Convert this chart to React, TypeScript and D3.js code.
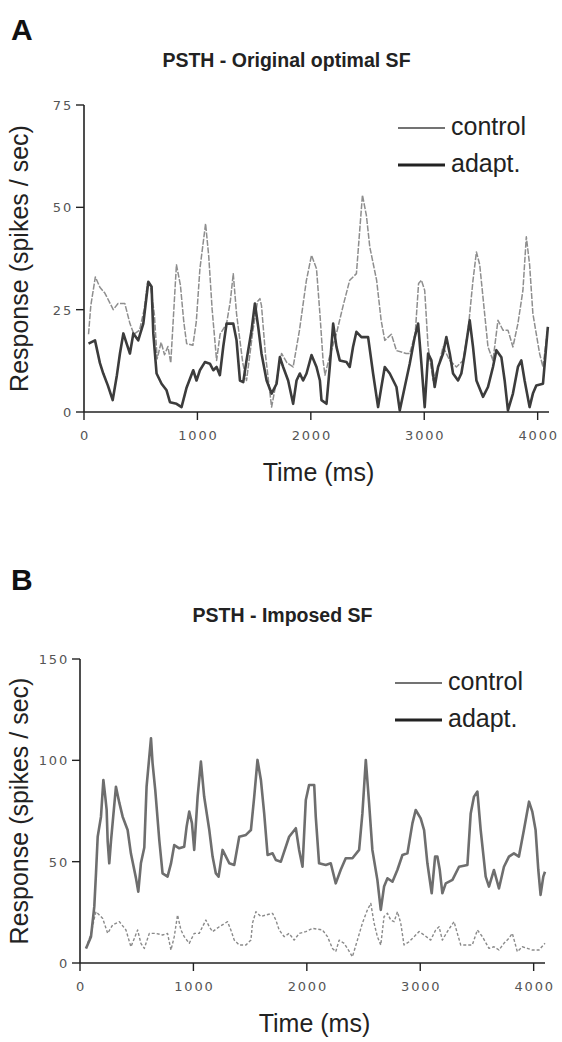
import React from "react";
import * as d3 from "d3";

// ---- Data (time ms, response spikes/sec) ----
const ctrlA: [number, number][] = [
  [40,19],[60,26],[100,33],[140,30.5],[185,29],[258,25],[300,26.5],[360,26.5],[405,21.6],[440,19],[490,20],[530,25],[560,31.5],[585,31],[620,24],[645,13],[680,17],[710,14],[740,16],[765,12],[790,24],[815,36],[850,31],[880,22],[905,16.7],[960,16.3],[990,22],[1022,35],[1072,46],[1100,38],[1130,25],[1169,12.6],[1200,19],[1257,21.6],[1290,27],[1316,33.8],[1345,24],[1400,12],[1433,7.7],[1490,20],[1530,27],[1551,27.7],[1565,26],[1600,14],[1654,1.2],[1700,8],[1742,14.3],[1790,12],[1844,11],[1900,20],[1960,32],[2006,38.3],[2050,35],[2080,24],[2108,12.6],[2125,9],[2160,13],[2226,19.2],[2285,26],[2343,32.2],[2402,33.8],[2430,44],[2455,53],[2490,48],[2520,40.3],[2580,32.2],[2620,22.4],[2652,17.5],[2710,19],[2755,15],[2840,14.3],[2872,14.3],[2920,19],[2950,31.4],[2975,32.2],[3004,29.7],[3034,15.9],[3078,7.7],[3122,11],[3166,15.9],[3225,12.6],[3284,11],[3342,12.6],[3386,19.8],[3430,32.2],[3460,39.1],[3489,36],[3518,28],[3562,15.9],[3606,12.6],[3650,22.4],[3694,20],[3738,20],[3782,15.9],[3826,21.6],[3870,29.7],[3900,42.8],[3929,36],[3958,24],[4017,14.3],[4047,11],[4090,20.8]
];
const adaptA: [number, number][] = [
  [40,16.7],[97,17.5],[140,12],[170,9.4],[210,6.5],[253,2.9],[290,9],[317,14.3],[347,19.2],[376,16.7],[405,14.3],[435,19.2],[478,17.5],[523,21.6],[567,31.8],[596,30.6],[611,19.2],[640,9.4],[684,6.9],[728,5.3],[758,2.4],[816,2],[860,1.2],[905,6],[963,10.2],[992,7.7],[1022,10.2],[1066,12.2],[1110,11.8],[1140,10.2],[1169,11],[1198,9],[1228,16],[1257,21.6],[1316,21.6],[1345,17.5],[1375,7.7],[1404,7.3],[1433,12.6],[1477,19.9],[1507,26.5],[1536,20.8],[1565,14.3],[1610,7.7],[1654,4.5],[1698,6.9],[1727,13.4],[1756,11],[1800,7.7],[1844,2],[1874,7.7],[1903,9.4],[1932,7.7],[1962,9.4],[2006,13.9],[2050,11],[2080,7.7],[2094,2.9],[2138,2],[2167,11],[2197,21.6],[2226,15.9],[2255,12.6],[2314,12.2],[2343,11],[2372,15.9],[2402,19.6],[2446,18.3],[2505,18.3],[2549,9.4],[2593,1.2],[2622,6.1],[2652,11],[2696,9.4],[2755,6.1],[2784,0.4],[2828,6.1],[2872,11.8],[2916,18.3],[2946,21.6],[2975,11.8],[3004,1.2],[3034,14.3],[3063,12.6],[3092,6.1],[3122,11],[3166,14.3],[3195,18.3],[3225,14.3],[3254,9.4],[3298,7.7],[3327,9.4],[3357,14.3],[3401,22.4],[3430,15.9],[3460,7.7],[3518,3.7],[3562,6.1],[3606,11],[3636,15.1],[3680,13.4],[3709,7.7],[3738,0.4],[3782,4.5],[3826,11],[3856,12.6],[3885,7.7],[3929,1.2],[3958,4.5],[3988,6.5],[4047,6.9],[4090,20.8]
];
const adaptB: [number, number][] = [
  [53,7.2],[97,13],[126,27.8],[141,44.2],[156,62.3],[185,72.2],[206,90.3],[223,82],[235,75.5],[244,60],[258,49.2],[273,60],[294,73],[317,87],[347,79],[376,72.2],[420,65.6],[449,54],[493,42],[514,35.2],[537,49.2],[567,57],[587,87],[626,110.9],[640,98.5],[664,85],[699,60.7],[728,44.2],[772,42.6],[802,49],[831,58.2],[875,56.6],[919,57.4],[940,67.3],[963,74.7],[987,69],[1007,55.8],[1037,82],[1066,99.4],[1095,82],[1140,65.6],[1169,52.5],[1198,44.2],[1222,42.6],[1257,55.8],[1316,49.2],[1360,48.4],[1404,62.3],[1463,63.2],[1507,65.6],[1536,82],[1565,100.2],[1595,90.3],[1624,73.8],[1654,53.3],[1698,54.1],[1727,50.8],[1771,50],[1844,62.3],[1903,66.5],[1932,55.8],[1962,47.5],[1991,80.4],[2020,87.8],[2065,87.8],[2079,72],[2108,49.2],[2167,48.4],[2211,49.2],[2255,39.3],[2299,46],[2343,51.7],[2402,51.7],[2461,55.8],[2490,73.8],[2520,100.2],[2549,78.9],[2578,55.8],[2622,41],[2652,26.2],[2681,37.7],[2711,41.8],[2755,40.1],[2799,46],[2843,53.3],[2887,54.1],[2931,68.9],[2960,75.5],[3004,71.4],[3034,65.6],[3063,49.2],[3101,34.4],[3131,52.5],[3151,52.5],[3172,46],[3195,34.4],[3225,39.3],[3284,41],[3342,47.5],[3416,48.4],[3445,73.8],[3474,82.1],[3504,84.6],[3533,65.6],[3577,42.6],[3606,37.7],[3650,45.9],[3694,36.8],[3738,47.5],[3782,52.5],[3826,54.1],[3870,52.5],[3914,65.6],[3959,79.6],[3988,74.7],[4017,65.6],[4041,45.9],[4061,33.6],[4085,42.6],[4100,45]
];
const ctrlB: [number, number][] = [
  [53,7.2],[100,15],[126,22],[141,25.3],[170,23.7],[200,22],[244,14.6],[288,18.8],[347,20.4],[405,16.3],[449,8],[478,12],[508,16.3],[537,9.7],[567,7.2],[611,14.6],[670,14.6],[728,13.8],[772,14.6],[802,6.4],[831,13],[860,23.7],[890,16.3],[919,13],[963,9.7],[1007,14.6],[1051,14.6],[1110,21.2],[1140,17.9],[1169,15.5],[1228,17.9],[1301,20.4],[1330,16.3],[1360,11.3],[1404,8.9],[1463,8.9],[1507,11.3],[1521,19.7],[1551,25.3],[1595,22.9],[1639,23.7],[1698,24.5],[1727,21.2],[1756,16.3],[1800,13],[1844,14.6],[1888,11.3],[1932,14.6],[1991,15.5],[2050,17.1],[2138,16.3],[2182,13],[2226,7.2],[2255,5.6],[2285,11.3],[2329,9.7],[2358,7.2],[2402,3.1],[2446,11.3],[2490,19.7],[2534,26.2],[2564,29.4],[2593,19.7],[2622,13],[2652,8.9],[2681,22.9],[2711,24.5],[2740,21.2],[2770,20.4],[2799,25.3],[2828,19.7],[2857,8.9],[2902,10.5],[2946,13],[2990,15.5],[3034,13.8],[3092,11.3],[3136,16.3],[3166,17.9],[3195,11.3],[3239,15.5],[3298,20.4],[3327,14.6],[3357,8.9],[3401,8.9],[3459,8.9],[3504,16.3],[3548,13],[3606,7.2],[3650,8],[3694,6.4],[3738,9.7],[3782,12.2],[3812,14.6],[3856,5.6],[3900,8],[3944,7.2],[3988,6.4],[4047,6.4],[4100,9.7]
];

const xTicks = [0, 1000, 2000, 3000, 4000];
const yTicksA = [0, 25, 50, 75];
const yTicksB = [0, 50, 100, 150];
const legendLabels = ["control", "adapt."];

const SANS = "'Liberation Sans', Arial, sans-serif";
const TICKFONT = "'DejaVu Sans', sans-serif";

type PanelProps = {
  letter: string;
  title: string;
  letterY: number;
  titleY: number;
  x: d3.ScaleLinear<number, number>;
  y: d3.ScaleLinear<number, number>;
  yTicks: number[];
  ctrl: [number, number][];
  adapt: [number, number][];
  ctrlStyle: { stroke: string; width: number; dash?: string };
  adaptStyle: { stroke: string; width: number };
  legendX: number;
  legendY: number;
  xLabelY: number;
};

function Panel(p: PanelProps) {
  const line = d3
    .line<[number, number]>()
    .x((d) => p.x(d[0]))
    .y((d) => p.y(d[1]));
  const [x0, x1] = p.x.range();
  const [yb, yt] = p.y.range();
  const tickLen = 8;
  const cx = (x0 + x1) / 2;
  return (
    <g>
      <text x={11} y={p.letterY} fontFamily={SANS} fontWeight="bold" fontSize={30} fill="#111">
        {p.letter}
      </text>
      <text x={cx - 30} y={p.titleY} textAnchor="middle" fontFamily={SANS} fontWeight="bold" fontSize={19.5} fill="#222">
        {p.title}
      </text>
      {/* data */}
      <path d={line(p.ctrl) || ""} fill="none" stroke={p.ctrlStyle.stroke} strokeWidth={p.ctrlStyle.width} strokeDasharray={p.ctrlStyle.dash} strokeLinejoin="round" />
      <path d={line(p.adapt) || ""} fill="none" stroke={p.adaptStyle.stroke} strokeWidth={p.adaptStyle.width} strokeLinejoin="round" />
      {/* axes */}
      <line x1={x0} x2={x0} y1={yt} y2={yb} stroke="#222" strokeWidth={1.6} />
      <line x1={x0} x2={x1} y1={yb} y2={yb} stroke="#222" strokeWidth={1.6} />
      {p.yTicks.map((t) => (
        <g key={"y" + t}>
          <line x1={x0 - tickLen} x2={x0} y1={p.y(t)} y2={p.y(t)} stroke="#222" strokeWidth={1.4} />
          <text x={x0 - 11} y={p.y(t) + 5} textAnchor="end" fontFamily={TICKFONT} fontSize={13} letterSpacing={1.8} fill="#555">
            {t}
          </text>
        </g>
      ))}
      {xTicks.map((t) => (
        <g key={"x" + t}>
          <line x1={p.x(t)} x2={p.x(t)} y1={yb} y2={yb + tickLen} stroke="#222" strokeWidth={1.4} />
          <text x={p.x(t) + 1} y={yb + 28} textAnchor="middle" fontFamily={TICKFONT} fontSize={13} letterSpacing={1.8} fill="#555">
            {t}
          </text>
        </g>
      ))}
      <text x={cx + 2} y={p.xLabelY} textAnchor="middle" fontFamily={SANS} fontSize={25} fill="#222">
        Time (ms)
      </text>
      <text
        transform={`translate(28, ${(yt + yb) / 2}) rotate(-90)`}
        textAnchor="middle"
        fontFamily={SANS}
        fontSize={25}
        fill="#222"
      >
        Response (spikes / sec)
      </text>
      {/* legend */}
      {legendLabels.map((lab, i) => (
        <g key={lab}>
          <line
            x1={p.legendX}
            x2={p.legendX + 47}
            y1={p.legendY + i * 37}
            y2={p.legendY + i * 37}
            stroke={i === 0 ? "#444" : "#222"}
            strokeWidth={i === 0 ? 1.5 : 3}
          />
          <text x={p.legendX + 53} y={p.legendY + i * 37 + 7} fontFamily={SANS} fontSize={25} fill="#222">
            {lab}
          </text>
        </g>
      ))}
    </g>
  );
}

export default function App() {
  const xA = d3.scaleLinear().domain([0, 4100]).range([84, 549]);
  const yA = d3.scaleLinear().domain([0, 75]).range([412, 105]);
  const xB = d3.scaleLinear().domain([0, 4100]).range([80, 545]);
  const yB = d3.scaleLinear().domain([0, 150]).range([963, 659]);
  return (
    <svg width={562} height={1042} style={{ position: "absolute", left: 0, top: 0, background: "#fff" }}>
      <rect width={562} height={1042} fill="#fff" />
      <Panel
        letter="A"
        title="PSTH - Original optimal SF"
        letterY={40}
        titleY={67}
        x={xA}
        y={yA}
        yTicks={yTicksA}
        ctrl={ctrlA}
        adapt={adaptA}
        ctrlStyle={{ stroke: "#8e8e8e", width: 1.5, dash: "6 1.5" }}
        adaptStyle={{ stroke: "#3c3c3c", width: 2.6 }}
        legendX={398}
        legendY={128}
        xLabelY={481}
      />
      <Panel
        letter="B"
        title="PSTH - Imposed SF"
        letterY={590}
        titleY={622}
        x={xB}
        y={yB}
        yTicks={yTicksB}
        ctrl={ctrlB}
        adapt={adaptB}
        ctrlStyle={{ stroke: "#8a8a8a", width: 1.4, dash: "3 2" }}
        adaptStyle={{ stroke: "#6e6e6e", width: 2.6 }}
        legendX={395}
        legendY={683}
        xLabelY={1032}
      />
    </svg>
  );
}
